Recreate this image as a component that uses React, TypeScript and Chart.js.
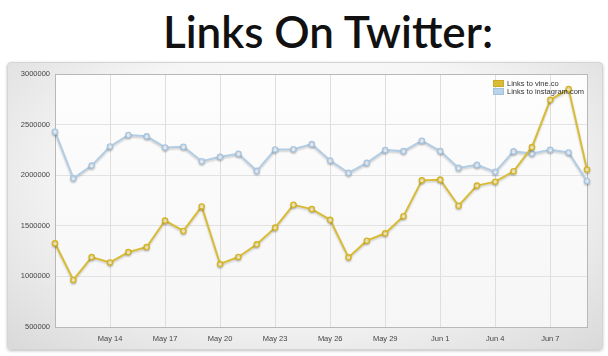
import React, { useEffect, useRef } from "react";
import { Chart, registerables } from "chart.js";

Chart.register(...registerables);

const dates = [
  "May 11", "May 12", "May 13", "May 14", "May 15", "May 16", "May 17", "May 18", "May 19", "May 20",
  "May 21", "May 22", "May 23", "May 24", "May 25", "May 26", "May 27", "May 28", "May 29", "May 30",
  "May 31", "Jun 1", "Jun 2", "Jun 3", "Jun 4", "Jun 5", "Jun 6", "Jun 7", "Jun 8", "Jun 9",
];
const shownTicks = ["May 14", "May 17", "May 20", "May 23", "May 26", "May 29", "Jun 1", "Jun 4", "Jun 7"];

const vineLinks = [
  1327000, 965000, 1191000, 1138000, 1240000, 1290000, 1552000, 1449000, 1691000, 1122000,
  1192000, 1317000, 1482000, 1708000, 1665000, 1559000, 1188000, 1353000, 1426000, 1595000,
  1949000, 1956000, 1698000, 1897000, 1936000, 2039000, 2277000, 2745000, 2851000, 2056000,
];
const instagramLinks = [
  2430000, 1969000, 2095000, 2284000, 2397000, 2384000, 2274000, 2281000, 2138000, 2182000,
  2212000, 2043000, 2254000, 2257000, 2307000, 2145000, 2023000, 2122000, 2248000, 2238000,
  2341000, 2238000, 2072000, 2102000, 2033000, 2235000, 2215000, 2251000, 2225000, 1943000,
];
const seriesNames = ["Links to vine.co", "Links to instagram.com"];

const YELLOW = "#d9bc36";
const BLUE = "#b3cde4";

export default function App() {
  const ref = useRef<HTMLCanvasElement>(null);
  useEffect(() => {
    const canvas = ref.current!;
    const frame = {
      id: "frame",
      beforeDatasetsDraw(chart: any) {
        const { ctx, chartArea: a } = chart;
        ctx.save();
        ctx.strokeStyle = "#b8b8b8";
        ctx.lineWidth = 1;
        ctx.strokeRect(Math.round(a.left) + 0.5, Math.round(a.top) + 0.5, Math.round(a.right - a.left), Math.round(a.bottom - a.top));
        ctx.restore();
      },
      beforeDatasetDraw(chart: any) {
        const ctx = chart.ctx;
        ctx.save();
        ctx.shadowColor = "rgba(0,0,0,0.18)";
        ctx.shadowBlur = 2;
        ctx.shadowOffsetY = 1.5;
      },
      afterDatasetDraw(chart: any) {
        chart.ctx.restore();
      },
      afterDraw(chart: any) {
        const { ctx, chartArea: a } = chart;
        ctx.save();
        const x0 = a.right - 94;
        const colors = [YELLOW, "#b9d3ea"];
        const borders = ["#c9a820", "#9fbcd8"];
        ctx.font = "7.5px 'Liberation Sans', Arial, sans-serif";
        ctx.textBaseline = "middle";
        seriesNames.forEach((n, i) => {
          const y = a.top + 6 + i * 8;
          ctx.fillStyle = colors[i];
          ctx.fillRect(x0, y, 11, 7);
          ctx.strokeStyle = borders[i];
          ctx.lineWidth = 0.8;
          ctx.strokeRect(x0 + 0.5, y + 0.5, 10, 6);
          ctx.fillStyle = "#333";
          ctx.fillText(n, x0 + 14, y + 4);
        });
        ctx.restore();
      },
    };
    const chart = new Chart(canvas, {
      type: "line",
      data: {
        labels: dates,
        datasets: [
          {
            label: seriesNames[0],
            data: vineLinks,
            borderColor: YELLOW,
            backgroundColor: "#f6eaa8",
            borderWidth: 2,
            pointRadius: 2.6,
            pointBorderWidth: 1.4,
            pointBorderColor: "#d4b326",
            pointBackgroundColor: "#faf2c4",
            tension: 0,
          },
          {
            label: seriesNames[1],
            data: instagramLinks,
            borderColor: BLUE,
            backgroundColor: "#ffffff",
            borderWidth: 2,
            pointRadius: 2.6,
            pointBorderWidth: 1.4,
            pointBorderColor: "#a9c6e0",
            pointBackgroundColor: "#f4f8fc",
            tension: 0,
          },
        ],
      },
      options: {
        animation: false,
        responsive: false,
        maintainAspectRatio: false,
        layout: { padding: { left: 0, top: 74, right: 21, bottom: 0 } },
        plugins: { legend: { display: false }, tooltip: { enabled: false }, title: { display: false } },
        scales: {
          x: {
            type: "category",
            offset: false,
            border: { display: false },
            grid: {
              drawTicks: false,
              color: (c: any) => (c.tick && shownTicks.includes(c.tick.label) ? "#dedede" : "rgba(0,0,0,0)"),
              lineWidth: 1,
            },
            ticks: {
              autoSkip: false,
              maxRotation: 0,
              padding: 7,
              color: "#444",
              font: { family: "'Liberation Sans', Arial, sans-serif", size: 7.5 },
              callback: (_v: any, i: number) => (shownTicks.includes(dates[i]) ? dates[i] : ""),
            },
            afterFit: (s: any) => {
              s.height = 29;
            },
          },
          y: {
            min: 500000,
            max: 3000000,
            border: { display: false },
            grid: { color: "#e2e2e2", drawTicks: false, lineWidth: 1 },
            ticks: {
              stepSize: 500000,
              padding: 5,
              color: "#444",
              font: { family: "'Liberation Sans', Arial, sans-serif", size: 7.5 },
              callback: (v: any) => String(v),
            },
            afterFit: (s: any) => {
              s.width = 55;
            },
          },
        },
      },
      plugins: [frame],
    });
    return () => chart.destroy();
  }, []);

  return (
    <div style={{ position: "fixed", left: 0, top: 0, width: 608, height: 356, background: "#fff", overflow: "hidden" }}>
      <div
        style={{
          position: "absolute",
          left: 0,
          top: 5,
          width: 656,
          textAlign: "center",
          fontFamily: "Lato, 'Open Sans', sans-serif",
          fontWeight: 600,
          fontSize: 44,
          color: "#111",
          lineHeight: "52px",
        }}
      >
        Links On Twitter:
      </div>
      <div
        style={{
          position: "absolute",
          left: 7,
          top: 62,
          width: 594,
          height: 286,
          borderRadius: 4,
          border: "1px solid #d4d4d4",
          boxShadow: "0 1px 3px rgba(0,0,0,0.25)",
          background: "radial-gradient(ellipse at 50% 40%, #ffffff 0%, #f5f5f5 55%, #d9d9d9 100%)",
        }}
      />
      <div
        style={{
          position: "absolute",
          left: 55,
          top: 75,
          width: 532,
          height: 252,
          background: "linear-gradient(180deg, #fdfdfd 0%, #f6f6f6 100%)",
        }}
      />
      <canvas ref={ref} width={608} height={356} style={{ position: "absolute", left: 0, top: 0, width: 608, height: 356 }} />
    </div>
  );
}
